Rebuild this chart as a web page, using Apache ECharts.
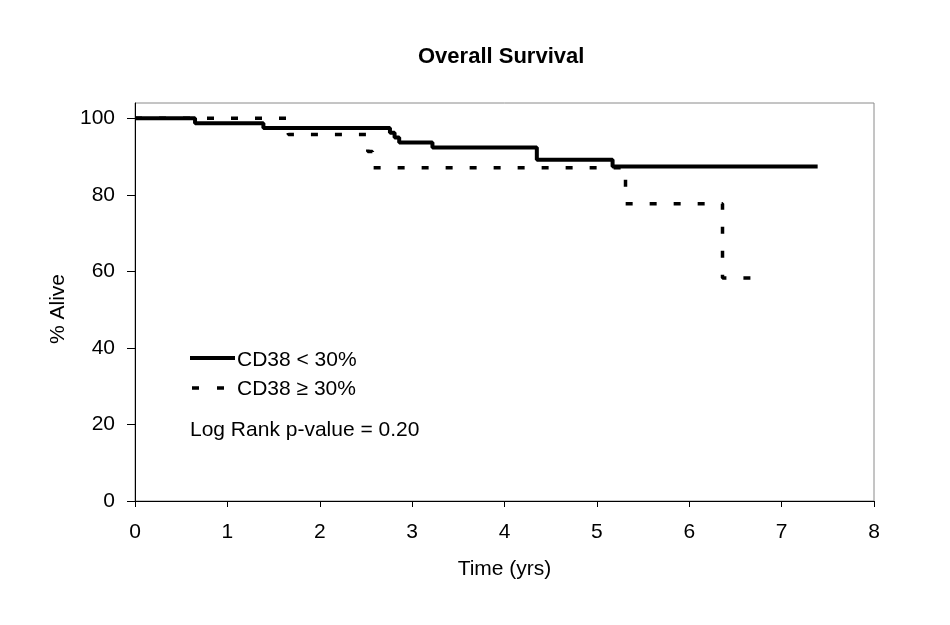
<!DOCTYPE html>
<html>
<head>
<meta charset="utf-8">
<script src="https://cdn.jsdelivr.net/npm/echarts@6/dist/echarts.min.js"></script>
<style>html,body{margin:0;padding:0;background:#fff;}#c{width:950px;height:625px;}</style>
</head>
<body>
<div id="c"></div>
<script>
// Kaplan-Meier step data (time in years, % alive after each event)
var lowTimes  = [0, 0.65, 1.39, 2.76, 2.81, 2.86, 2.90, 3.22, 4.35, 5.17, 7.39];
var lowValues = [100, 98.7, 97.5, 96.2, 95.0, 93.7, 93.7, 92.4, 89.2, 87.4, 87.4];
var highTimes  = [0, 1.66, 2.52, 2.57, 5.31, 6.36, 6.68];
var highValues = [100, 95.8, 91.3, 87.1, 77.7, 58.3, 58.3];
var xTicks = [0, 1, 2, 3, 4, 5, 6, 7, 8];
var yTicks = [0, 20, 40, 60, 80, 100];
var seriesNames = ['CD38 < 30%', 'CD38 \u2265 30%'];
var titleText = 'Overall Survival';
var noteText = 'Log Rank p-value = 0.20';

function pairs(t, v) { return t.map(function (x, i) { return [x, v[i]]; }); }

var FONT = 'Liberation Sans, Arial, sans-serif';
var FS = 21;
var chart = echarts.init(document.getElementById('c'));
chart.setOption({
  animation: false,
  backgroundColor: '#fff',
  title: {
    text: titleText, left: 413, top: 41,
    textStyle: { fontFamily: FONT, fontSize: 22, fontWeight: 'bold', color: '#000' }
  },
  grid: { left: 135, right: 76, top: 103, bottom: 124, show: true, borderColor: '#8a8a8a', borderWidth: 1, backgroundColor: 'transparent' },
  graphic: [
    { type: 'line', shape: { x1: 190, y1: 358, x2: 235, y2: 358 }, style: { stroke: '#000', lineWidth: 4 } },
    { type: 'line', shape: { x1: 192, y1: 388, x2: 225, y2: 388 }, style: { stroke: '#000', lineWidth: 3.5, lineDash: [7, 18] } },
    { type: 'text', x: 237, y: 360, style: { text: seriesNames[0], font: FS + 'px ' + FONT, fill: '#000', verticalAlign: 'middle', align: 'left' } },
    { type: 'text', x: 237, y: 389, style: { text: seriesNames[1], font: FS + 'px ' + FONT, fill: '#000', verticalAlign: 'middle', align: 'left' } },
    { type: 'text', x: 190, y: 430, style: { text: noteText, font: FS + 'px ' + FONT, fill: '#000', verticalAlign: 'middle', align: 'left' } }
  ],
  xAxis: {
    type: 'value', min: 0, max: 8, interval: 1,
    name: 'Time (yrs)', nameLocation: 'middle', nameGap: 58,
    nameTextStyle: { fontFamily: FONT, fontSize: FS, color: '#000' },
    axisLine: { show: true, onZero: false, lineStyle: { color: '#000', width: 1 } },
    axisTick: { show: true, length: 6, lineStyle: { color: '#000' }, customValues: xTicks },
    axisLabel: { fontFamily: FONT, fontSize: FS, color: '#000', margin: 21, customValues: xTicks },
    splitLine: { show: false }
  },
  yAxis: {
    type: 'value', min: 0, max: 104,
    name: '% Alive', nameLocation: 'middle', nameGap: 59, nameRotate: 90,
    nameTextStyle: { fontFamily: FONT, fontSize: FS, color: '#000', padding: [0, 14, 0, 0] },
    axisLine: { show: true, lineStyle: { color: '#000', width: 1 } },
    axisTick: { show: true, length: 8, lineStyle: { color: '#000' }, customValues: yTicks },
    axisLabel: { fontFamily: FONT, fontSize: FS, color: '#000', margin: 20, customValues: yTicks },
    splitLine: { show: false }
  },
  series: [
    {
      name: seriesNames[0], type: 'line', step: 'end', symbol: 'none', showSymbol: false,
      data: pairs(lowTimes, lowValues),
      lineStyle: { color: '#000', width: 4 }, itemStyle: { color: '#000' }
    },
    {
      name: seriesNames[1], type: 'line', step: 'end', symbol: 'none', showSymbol: false,
      data: pairs(highTimes, highValues),
      lineStyle: { color: '#000', width: 3.5, type: [7, 17] }, itemStyle: { color: '#000' }
    }
  ]
});
</script>
</body>
</html>
